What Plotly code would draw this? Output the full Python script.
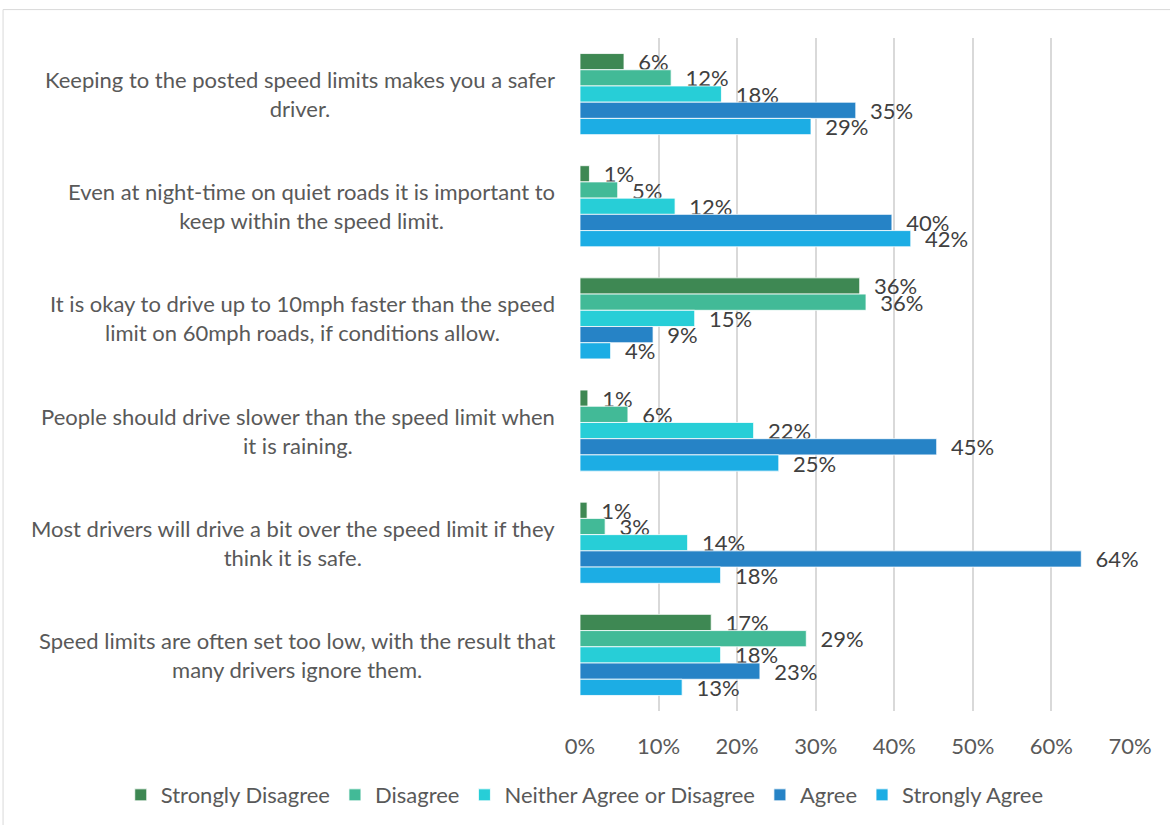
import plotly.graph_objects as go

# Survey statements (two display lines each)
statements = [
    "Keeping to the posted speed limits makes you a safer<br>driver.",
    "Even at night-time on quiet roads it is important to<br>keep within the speed limit.",
    "It is okay to drive up to 10mph faster than the speed<br>limit on 60mph roads, if conditions allow.",
    "People should drive slower than the speed limit when<br>it is raining.",
    "Most drivers will drive a bit over the speed limit if they<br>think it is safe.",
    "Speed limits are often set too low, with the result that<br>many drivers ignore them.",
]

# Share of respondents (%) per response option, one value per statement
strongly_disagree = [5.6, 1.2, 35.6, 1.0, 0.9, 16.7]
disagree = [11.6, 4.8, 36.4, 6.1, 3.2, 28.8]
neither = [18.0, 12.1, 14.6, 22.1, 13.7, 17.9]
agree = [35.1, 39.7, 9.3, 45.4, 63.8, 22.9]
strongly_agree = [29.4, 42.1, 3.9, 25.3, 17.9, 13.0]

series = [
    ("Strongly Disagree", strongly_disagree, "#3E8853"),
    ("Disagree", disagree, "#42BA97"),
    ("Neither Agree or Disagree", neither, "#27CED7"),
    ("Agree", agree, "#2683C6"),
    ("Strongly Agree", strongly_agree, "#1CADE4"),
]

x_ticks = [0, 10, 20, 30, 40, 50, 60, 70]

FONT = "Lato, Calibri, Carlito, sans-serif"
SIZE = 22
GREY_TEXT = "#595959"
LABEL_TEXT = "#404040"

fig = go.Figure()
for name, values, color in series:
    fig.add_trace(go.Bar(
        name=name,
        x=values,
        y=statements,
        orientation="h",
        marker=dict(color=color, line=dict(color="white", width=0.8)),
        texttemplate="\u00a0\u00a0%{x:.0f}%",
        textposition="outside",
        constraintext="none",
        cliponaxis=False,
        textfont=dict(family=FONT, size=SIZE, color=LABEL_TEXT),
        hoverinfo="skip",
    ))

# Statement labels: centred two-line blocks, right-aligned against the plot area
for s in statements:
    fig.add_annotation(
        x=-0.0418, xref="paper", xanchor="right",
        y=s, yref="y", yanchor="middle",
        text=s, align="center", showarrow=False,
        font=dict(family=FONT, size=SIZE, color=GREY_TEXT),
    )

# Outer chart border
fig.add_shape(
    type="rect", xref="paper", yref="paper",
    x0=-1.049, x1=1.2, y0=-0.3, y1=1.0422,
    line=dict(color="#D9D9D9", width=1), layer="below",
)

fig.update_layout(
    width=1170, height=825,
    margin=dict(l=580, r=40, t=38, b=114, autoexpand=False),
    paper_bgcolor="white", plot_bgcolor="white",
    barmode="group", bargap=0.277, bargroupgap=0,
    font=dict(family=FONT, size=SIZE, color=GREY_TEXT),
    xaxis=dict(
        range=[0, 70], tickvals=x_ticks,
        ticktext=[f"{v}%" for v in x_ticks],
        showgrid=True, gridcolor="#D9D9D9", gridwidth=1.5,
        zeroline=False, showline=False, ticks="",
        ticklabelstandoff=20,
        tickfont=dict(family=FONT, size=SIZE, color=GREY_TEXT),
    ),
    yaxis=dict(
        autorange="reversed", showticklabels=False,
        showgrid=False, zeroline=False, showline=False, ticks="",
    ),
    legend=dict(
        orientation="h",
        x=-0.835, xanchor="left",
        y=-0.1249, yanchor="middle",
        traceorder="normal",
        font=dict(family=FONT, size=SIZE, color=GREY_TEXT),
        itemwidth=30,
    ),
    showlegend=True,
)

fig.write_html("out.html")
